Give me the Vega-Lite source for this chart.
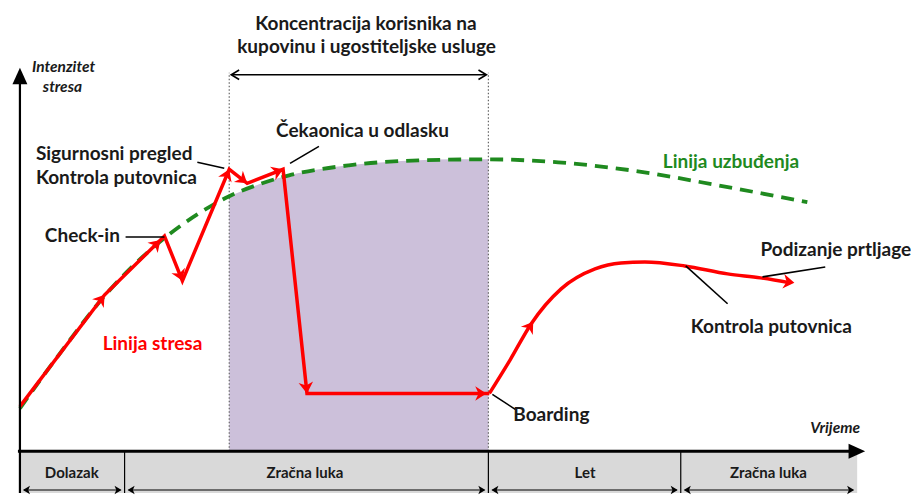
{
  "$schema": "https://vega.github.io/schema/vega-lite/v6.json",
  "width": 911,
  "height": 495,
  "padding": 0,
  "autosize": {"type": "fit", "contains": "padding"},
  "config": {"view": {"stroke": null}},
  "encoding": {
    "x": {"field": "x", "type": "quantitative", "scale": {"domain": [0, 911], "nice": false, "zero": false}, "axis": null},
    "y": {"field": "y", "type": "quantitative", "scale": {"domain": [0, 495], "nice": false, "zero": false}, "axis": null}
  },
  "layer": [
    {
      "data": {"values": [
        {"x": 20, "x2": 125, "y": 42, "y2": 0},
        {"x": 125, "x2": 490, "y": 42, "y2": 0},
        {"x": 490, "x2": 683, "y": 42, "y2": 0},
        {"x": 683, "x2": 860, "y": 42, "y2": 0}
      ]},
      "mark": {"type": "rect", "color": "#d9d9d9"},
      "encoding": {"x2": {"field": "x2"}, "y2": {"field": "y2"}}
    },
    {
      "data": {"values": [
        {"x": 125, "x2": 125, "y": 42, "y2": 0},
        {"x": 490, "x2": 490, "y": 42, "y2": 0},
        {"x": 683, "x2": 683, "y": 42, "y2": 0}
      ]},
      "mark": {"type": "rule", "color": "#000000", "strokeWidth": 1.2},
      "encoding": {"x2": {"field": "x2"}, "y2": {"field": "y2"}}
    },
    {
      "data": {"values": [
        {"x": 24, "x2": 121, "y": 3, "y2": 3},
        {"x": 129, "x2": 486, "y": 3, "y2": 3},
        {"x": 494, "x2": 679, "y": 3, "y2": 3},
        {"x": 687, "x2": 856, "y": 3, "y2": 3}
      ]},
      "mark": {"type": "rule", "color": "#000000", "strokeWidth": 1.2},
      "encoding": {"x2": {"field": "x2"}, "y2": {"field": "y2"}}
    },
    {
      "data": {"values": [
        {"x": 23, "y": 3, "a": 180}, {"x": 122, "y": 3, "a": 0},
        {"x": 128, "y": 3, "a": 180}, {"x": 487, "y": 3, "a": 0},
        {"x": 493, "y": 3, "a": 180}, {"x": 680, "y": 3, "a": 0},
        {"x": 686, "y": 3, "a": 180}, {"x": 857, "y": 3, "a": 0}
      ]},
      "mark": {"type": "point", "shape": "M0,0L-1,-0.6L-0.75,0L-1,0.6Z", "filled": true, "color": "#000000", "strokeWidth": 0, "size": 200, "opacity": 1},
      "encoding": {"angle": {"field": "a", "type": "quantitative", "scale": null}}
    },
    {
      "data": {"values": [
        {"x": 230, "y": 298}, {"x": 260, "y": 310}, {"x": 290, "y": 319},
        {"x": 320, "y": 325}, {"x": 350, "y": 329}, {"x": 385, "y": 332},
        {"x": 420, "y": 334}, {"x": 455, "y": 335}, {"x": 490, "y": 335}
      ]},
      "mark": {"type": "area", "color": "#ccc0da", "opacity": 1, "interpolate": "monotone"},
      "encoding": {"y2": {"datum": 42}}
    },
    {
      "data": {"values": [
        {"x": 230, "x2": 230, "y": 42, "y2": 422},
        {"x": 490, "x2": 490, "y": 42, "y2": 422}
      ]},
      "mark": {"type": "rule", "color": "#666666", "strokeWidth": 1.2, "strokeDash": [1.5, 2]},
      "encoding": {"x2": {"field": "x2"}, "y2": {"field": "y2"}}
    },
    {
      "data": {"values": [
        {"x": 20, "y": 85}, {"x": 60, "y": 140}, {"x": 105, "y": 198},
        {"x": 165, "y": 256}, {"x": 200, "y": 281}, {"x": 230, "y": 298},
        {"x": 260, "y": 310}, {"x": 290, "y": 319}, {"x": 350, "y": 329},
        {"x": 420, "y": 334}, {"x": 490, "y": 335}, {"x": 560, "y": 332},
        {"x": 640, "y": 323}, {"x": 720, "y": 309}, {"x": 810, "y": 292}
      ]},
      "mark": {"type": "line", "color": "#1f8a1f", "strokeWidth": 3.8, "strokeDash": [13, 8], "interpolate": "monotone"}
    },
    {
      "data": {"values": [
        {"o": 1, "x": 20, "y": 87}, {"o": 2, "x": 105, "y": 199},
        {"o": 3, "x": 165, "y": 258}, {"o": 4, "x": 183, "y": 213},
        {"o": 5, "x": 230, "y": 325}, {"o": 6, "x": 248, "y": 311},
        {"o": 7, "x": 284, "y": 325}, {"o": 8, "x": 308, "y": 100},
        {"o": 9, "x": 491, "y": 100}
      ]},
      "mark": {"type": "line", "color": "#ff0000", "strokeWidth": 3.5},
      "encoding": {"order": {"field": "o", "type": "quantitative"}}
    },
    {
      "data": {"values": [
        {"o": 1, "x": 491, "y": 100}, {"o": 2, "x": 512, "y": 134},
        {"o": 3, "x": 533, "y": 170}, {"o": 4, "x": 563, "y": 205},
        {"o": 5, "x": 597, "y": 225}, {"o": 6, "x": 623, "y": 231},
        {"o": 7, "x": 647, "y": 232}, {"o": 8, "x": 687, "y": 228},
        {"o": 9, "x": 730, "y": 220}, {"o": 10, "x": 763, "y": 216},
        {"o": 11, "x": 793, "y": 211}
      ]},
      "mark": {"type": "line", "color": "#ff0000", "strokeWidth": 3.5, "interpolate": "monotone"},
      "encoding": {"order": {"field": "o", "type": "quantitative"}}
    },
    {
      "data": {"values": [
        {"x": 105, "y": 199, "a": 307}, {"x": 161, "y": 254, "a": 315},
        {"x": 183, "y": 213, "a": 68}, {"x": 230, "y": 325, "a": 293},
        {"x": 248, "y": 311, "a": 38}, {"x": 284, "y": 325, "a": 338},
        {"x": 308, "y": 100, "a": 84}, {"x": 488, "y": 100, "a": 0},
        {"x": 535, "y": 172, "a": 305}, {"x": 797, "y": 211, "a": 8}
      ]},
      "mark": {"type": "point", "shape": "M0,0L-1,-0.65L-0.7,0L-1,0.65Z", "filled": true, "color": "#ff0000", "size": 500, "opacity": 1, "strokeWidth": 0},
      "encoding": {"angle": {"field": "a", "type": "quantitative", "scale": null}}
    },
    {
      "data": {"values": [
        {"x": 20, "x2": 20, "y": 0, "y2": 412}
      ]},
      "mark": {"type": "rule", "color": "#000000", "strokeWidth": 2.2},
      "encoding": {"x2": {"field": "x2"}, "y2": {"field": "y2"}}
    },
    {
      "data": {"values": [
        {"x": 18, "x2": 854, "y": 42, "y2": 42}
      ]},
      "mark": {"type": "rule", "color": "#000000", "strokeWidth": 3},
      "encoding": {"x2": {"field": "x2"}, "y2": {"field": "y2"}}
    },
    {
      "data": {"values": [
        {"x": 20, "y": 427, "a": 270}, {"x": 868, "y": 42, "a": 0}
      ]},
      "mark": {"type": "point", "shape": "M0,0L-1,-0.45L-1,0.45Z", "filled": true, "color": "#000000", "size": 1100, "opacity": 1, "strokeWidth": 0},
      "encoding": {"angle": {"field": "a", "type": "quantitative", "scale": null}}
    },
    {
      "data": {"values": [
        {"x": 233, "x2": 487, "y": 420, "y2": 420}
      ]},
      "mark": {"type": "rule", "color": "#000000", "strokeWidth": 1.5},
      "encoding": {"x2": {"field": "x2"}, "y2": {"field": "y2"}}
    },
    {
      "data": {"values": [
        {"x": 232, "y": 420, "a": 180}, {"x": 488, "y": 420, "a": 0}
      ]},
      "mark": {"type": "point", "shape": "M-1,-0.6L0,0L-1,0.6", "filled": false, "color": "#000000", "strokeWidth": 1.6, "size": 250, "opacity": 1},
      "encoding": {"angle": {"field": "a", "type": "quantitative", "scale": null}}
    },
    {
      "data": {"values": [
        {"x": 126, "x2": 165, "y": 257, "y2": 257},
        {"x": 198, "x2": 225, "y": 332, "y2": 326},
        {"x": 320, "x2": 291, "y": 348, "y2": 331},
        {"x": 494, "x2": 517, "y": 99, "y2": 84},
        {"x": 688, "x2": 730, "y": 228, "y2": 190},
        {"x": 765, "x2": 828, "y": 217, "y2": 227}
      ]},
      "mark": {"type": "rule", "color": "#000000", "strokeWidth": 1.6},
      "encoding": {"x2": {"field": "x2"}, "y2": {"field": "y2"}}
    },
    {
      "data": {"values": [
        {"x": 36, "y": 340, "t": "Sigurnosni pregled"},
        {"x": 36, "y": 316, "t": "Kontrola putovnica"},
        {"x": 45, "y": 258, "t": "Check-in"},
        {"x": 277, "y": 363, "t": "Čekaonica u odlasku"},
        {"x": 515, "y": 78, "t": "Boarding"},
        {"x": 693, "y": 167, "t": "Kontrola putovnica"},
        {"x": 763, "y": 244, "t": "Podizanje prtljage"},
        {"x": 256, "y": 471, "t": "Koncentracija korisnika na"},
        {"x": 238, "y": 448, "t": "kupovinu i ugostiteljske usluge"}
      ]},
      "mark": {"type": "text", "align": "left", "baseline": "middle", "font": "Lato", "fontWeight": "bold", "fontSize": 19, "color": "#1a1a1a"},
      "encoding": {"text": {"field": "t"}}
    },
    {
      "data": {"values": [{"x": 665, "y": 332, "t": "Linija uzbuđenja"}]},
      "mark": {"type": "text", "align": "left", "baseline": "middle", "font": "Lato", "fontWeight": "bold", "fontSize": 19, "color": "#1f8a1f"},
      "encoding": {"text": {"field": "t"}}
    },
    {
      "data": {"values": [{"x": 103, "y": 150, "t": "Linija stresa"}]},
      "mark": {"type": "text", "align": "left", "baseline": "middle", "font": "Lato", "fontWeight": "bold", "fontSize": 19, "color": "#ff0000"},
      "encoding": {"text": {"field": "t"}}
    },
    {
      "data": {"values": [
        {"x": 32, "y": 428, "t": "Intenzitet"},
        {"x": 43, "y": 408, "t": "stresa"},
        {"x": 813, "y": 65, "t": "Vrijeme"}
      ]},
      "mark": {"type": "text", "align": "left", "baseline": "middle", "font": "Lato", "fontWeight": "bold", "fontStyle": "italic", "fontSize": 15.5, "color": "#1a1a1a"},
      "encoding": {"text": {"field": "t"}}
    },
    {
      "data": {"values": [
        {"x": 72, "y": 20, "t": "Dolazak"},
        {"x": 306, "y": 20, "t": "Zračna luka"},
        {"x": 587, "y": 20, "t": "Let"},
        {"x": 771, "y": 20, "t": "Zračna luka"}
      ]},
      "mark": {"type": "text", "align": "center", "baseline": "middle", "font": "Lato", "fontWeight": "bold", "fontSize": 15, "color": "#1a1a1a"},
      "encoding": {"text": {"field": "t"}}
    }
  ]
}
